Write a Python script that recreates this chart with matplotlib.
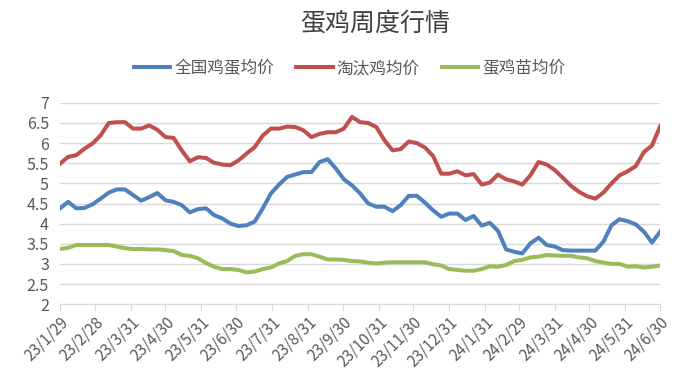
import numpy as np
import pandas as pd
import matplotlib
matplotlib.use("Agg")
import matplotlib.pyplot as plt

plt.rcParams['font.family'] = ['Noto Sans CJK SC', 'DejaVu Sans']

# weekly data, Sundays from 2023-01-29 to 2024-06-30
weeks = pd.date_range("2023-01-29", "2024-06-30", freq="7D")

egg = [4.38, 4.54, 4.38, 4.39, 4.48, 4.62, 4.77, 4.85, 4.85, 4.71,
       4.57, 4.66, 4.76, 4.58, 4.54, 4.46, 4.28, 4.36, 4.38, 4.21,
       4.13, 4.00, 3.94, 3.96, 4.05, 4.38, 4.75, 4.97, 5.16, 5.22,
       5.28, 5.28, 5.53, 5.60, 5.37, 5.10, 4.95, 4.75, 4.50, 4.42,
       4.42, 4.31, 4.46, 4.69, 4.69, 4.52, 4.33, 4.17, 4.25, 4.25,
       4.09, 4.19, 3.95, 4.02, 3.82, 3.36, 3.30, 3.26, 3.51, 3.65,
       3.47, 3.43, 3.34, 3.33, 3.33, 3.33, 3.33, 3.55, 3.96, 4.11,
       4.06, 3.98, 3.80, 3.53, 3.80]

hen = [5.49, 5.66, 5.70, 5.86, 5.99, 6.19, 6.50, 6.52, 6.52, 6.36,
       6.36, 6.44, 6.33, 6.15, 6.13, 5.82, 5.55, 5.65, 5.63, 5.51,
       5.47, 5.45, 5.57, 5.74, 5.90, 6.19, 6.36, 6.36, 6.41, 6.40,
       6.32, 6.15, 6.23, 6.27, 6.27, 6.36, 6.65, 6.52, 6.50, 6.40,
       6.07, 5.82, 5.85, 6.04, 6.00, 5.89, 5.68, 5.24, 5.24, 5.30,
       5.20, 5.23, 4.97, 5.02, 5.22, 5.10, 5.05, 4.97, 5.20, 5.53,
       5.47, 5.33, 5.14, 4.94, 4.79, 4.68, 4.62, 4.77, 5.00, 5.20,
       5.30, 5.43, 5.78, 5.94, 6.42]

chick = [3.37, 3.40, 3.47, 3.47, 3.47, 3.47, 3.47, 3.43, 3.39, 3.37,
         3.37, 3.36, 3.36, 3.34, 3.32, 3.22, 3.20, 3.14, 3.02, 2.93,
         2.87, 2.87, 2.85, 2.79, 2.81, 2.87, 2.91, 3.01, 3.07, 3.20,
         3.24, 3.24, 3.18, 3.11, 3.11, 3.10, 3.07, 3.06, 3.03, 3.01,
         3.03, 3.04, 3.04, 3.04, 3.04, 3.04, 2.99, 2.96, 2.87, 2.85,
         2.83, 2.83, 2.87, 2.94, 2.93, 2.97, 3.07, 3.10, 3.16, 3.18,
         3.22, 3.21, 3.20, 3.20, 3.16, 3.14, 3.07, 3.03, 3.00, 3.00,
         2.93, 2.94, 2.91, 2.93, 2.96]

tick_dates = ["2023-01-29", "2023-02-28", "2023-03-31", "2023-04-30", "2023-05-31",
              "2023-06-30", "2023-07-31", "2023-08-31", "2023-09-30", "2023-10-31",
              "2023-11-30", "2023-12-31", "2024-01-31", "2024-02-29", "2024-03-31",
              "2024-04-30", "2024-05-31", "2024-06-30"]
tick_labels = ["23/1/29", "23/2/28", "23/3/31", "23/4/30", "23/5/31", "23/6/30",
               "23/7/31", "23/8/31", "23/9/30", "23/10/31", "23/11/30", "23/12/31",
               "24/1/31", "24/2/29", "24/3/31", "24/4/30", "24/5/31", "24/6/30"]

series = [("全国鸡蛋均价", egg, "#4F81BD"),
          ("淘汰鸡均价", hen, "#C0504D"),
          ("蛋鸡苗均价", chick, "#9BBB59")]

fig = plt.figure(figsize=(6.75, 3.7), dpi=100)
ax = fig.add_axes([0.089, 0.178, 0.889, 0.544])

for name, vals, c in series:
    ax.plot(weeks, vals, color=c, lw=2.9, label=name, solid_joinstyle='round')

ax.set_ylim(2, 7)
ax.set_yticks(np.arange(2, 7.01, 0.5))
ax.set_yticklabels(["2", "2.5", "3", "3.5", "4", "4.5", "5", "5.5", "6", "6.5", "7"])
ax.set_xlim(weeks[0], weeks[-1])
ax.set_xticks(pd.to_datetime(tick_dates))
ax.set_xticklabels(tick_labels, rotation=45, ha='right', rotation_mode='anchor')

ax.grid(axis='y', color='#d9d9d9', lw=1)
ax.set_axisbelow(True)
for s in ['left', 'right', 'top']:
    ax.spines[s].set_visible(False)
ax.spines['bottom'].set_color('#d9d9d9')
ax.tick_params(axis='y', length=0, labelsize=11.5, labelcolor='#595959', pad=8)
ax.tick_params(axis='x', length=5, color='#d9d9d9', labelsize=11,
               labelcolor='#595959', pad=2)

fig.text(0.556, 0.935, "蛋鸡周度行情", ha='center', va='center',
         fontsize=18, color='#404040')
fig.legend(loc='center', bbox_to_anchor=(0.518, 0.815), ncol=3, frameon=False,
           fontsize=12, labelcolor='#595959', handlelength=2.2,
           handletextpad=0.25, columnspacing=1.3)

fig.savefig("out.png", dpi=100)
